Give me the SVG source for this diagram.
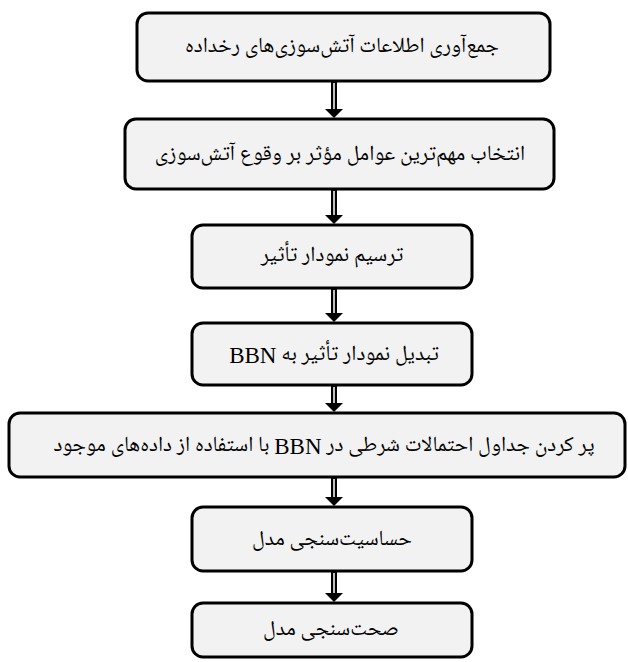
<svg xmlns="http://www.w3.org/2000/svg" width="628" height="662" viewBox="0 0 628 662">
<style>
.box{fill:#f2f2f2;stroke:#000;stroke-width:3}
.t{font-family:"Noto Naskh Arabic","Noto Sans Arabic","DejaVu Sans",sans-serif;font-size:21.5px;fill:#000;text-anchor:middle;direction:rtl;dominant-baseline:central}
.lat{font-family:"Liberation Serif",serif;font-size:23px}
.shaft{stroke:#000;stroke-width:6}
.gap{stroke:#fff;stroke-width:1.5}
.head{fill:#000}
</style>
<rect width="628" height="662" fill="#fff"/>
<g id="connectors">
<g><line class="shaft" x1="334" y1="81" x2="334" y2="110"/><line class="gap" x1="334" y1="83" x2="334" y2="110"/><polygon class="head" points="325,109 343,109 334,118"/></g>
<g><line class="shaft" x1="334" y1="189" x2="334" y2="216"/><line class="gap" x1="334" y1="191" x2="334" y2="216"/><polygon class="head" points="325,215 343,215 334,224"/></g>
<g><line class="shaft" x1="334" y1="288" x2="334" y2="314"/><line class="gap" x1="334" y1="290" x2="334" y2="314"/><polygon class="head" points="325,313 343,313 334,322"/></g>
<g><line class="shaft" x1="334" y1="385" x2="334" y2="404"/><line class="gap" x1="334" y1="387" x2="334" y2="404"/><polygon class="head" points="325,403 343,403 334,412"/></g>
<g><line class="shaft" x1="334" y1="477" x2="334" y2="498"/><line class="gap" x1="334" y1="479" x2="334" y2="498"/><polygon class="head" points="325,497 343,497 334,506"/></g>
<g><line class="shaft" x1="334" y1="571" x2="334" y2="594"/><line class="gap" x1="334" y1="573" x2="334" y2="594"/><polygon class="head" points="325,593 343,593 334,602"/></g>
</g>
<g id="n1"><rect class="box" x="137" y="13" width="413" height="68" rx="11"/><text class="t" x="342" y="47">جمع‌آوری اطلاعات آتش‌سوزی‌های رخداده</text></g>
<g id="n2"><rect class="box" x="125" y="119" width="429" height="70" rx="11"/><text class="t" x="340" y="155">انتخاب مهم‌ترین عوامل مؤثر بر وقوع آتش‌سوزی</text></g>
<g id="n3"><rect class="box" x="192" y="225" width="280" height="63" rx="11"/><text class="t" x="332" y="256">ترسیم نمودار تأثیر</text></g>
<g id="n4"><rect class="box" x="192" y="323" width="280" height="62" rx="11"/><text class="t" x="334" y="355">تبدیل نمودار تأثیر به <tspan class="lat">BBN</tspan></text></g>
<g id="n5"><rect class="box" x="9" y="413" width="616" height="64" rx="11"/><text class="t" x="324" y="446">پر کردن جداول احتمالات شرطی در <tspan class="lat">BBN</tspan> با استفاده از داده‌های موجود</text></g>
<g id="n6"><rect class="box" x="192" y="507" width="280" height="64" rx="11"/><text class="t" x="332" y="540">حساسیت‌سنجی مدل</text></g>
<g id="n7"><rect class="box" x="192" y="603" width="280" height="54" rx="11"/><text class="t" x="331" y="630">صحت‌سنجی مدل</text></g>
</svg>
